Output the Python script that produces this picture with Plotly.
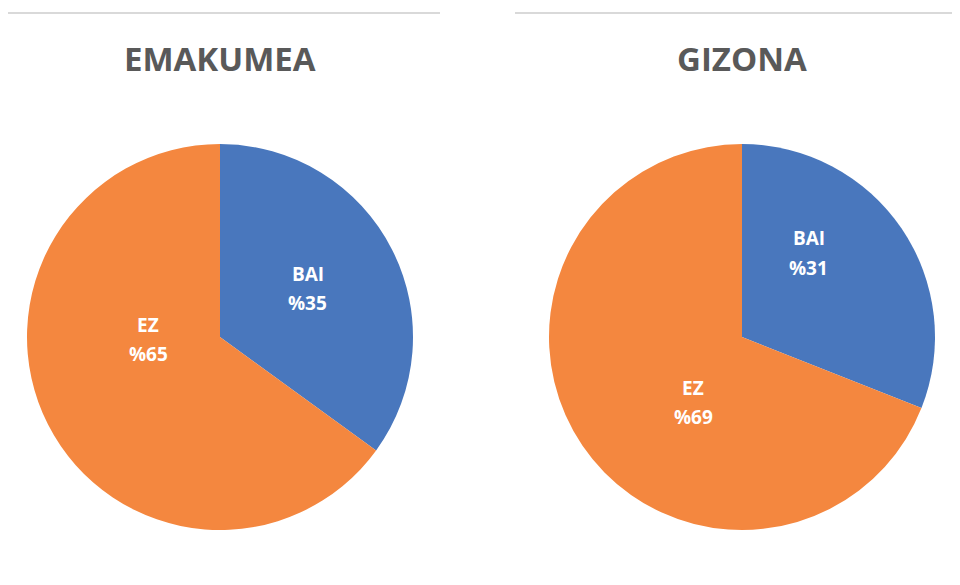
import plotly.graph_objects as go

categories = ["BAI", "EZ"]
titles = ["EMAKUMEA", "GIZONA"]
emakumea = [35, 65]
gizona = [31, 69]

colors = ["#4977BD", "#F4873F"]

# page offset (browser body margin) and figure size
OFF = 8
W, H = 960 - OFF, 585 - OFF


def px(x):
    return (x - OFF) / W


def py(y):
    return 1 - (y - OFF) / H


# pie layout (page pixels): centre x, centre y, radius
pies = [(220, 337, 193), (742, 337, 193)]
# label block centres (page pixels) for each slice of each pie
label_pos = [[(307.5, 288), (148, 339)], [(808.5, 253), (693, 402)]]
LINE_GAP = 14.5

fig = go.Figure()
for vals, (cx, cy, r) in zip([emakumea, gizona], pies):
    fig.add_trace(go.Pie(
        labels=categories, values=vals, sort=False, direction="clockwise", rotation=0,
        marker=dict(colors=colors, line=dict(width=0)),
        textinfo="none", hoverinfo="label+value",
        domain=dict(x=[px(cx - r), px(cx + r)], y=[py(cy + r), py(cy - r)]),
        showlegend=False,
    ))

for vals, positions in zip([emakumea, gizona], label_pos):
    for cat, v, (lx, ly) in zip(categories, vals, positions):
        for txt, yy in [(cat, ly - LINE_GAP), ("%" + str(v), ly + LINE_GAP)]:
            fig.add_annotation(text="<b>%s</b>" % txt, x=px(lx), y=py(yy),
                               xref="paper", yref="paper", showarrow=False,
                               xanchor="center", yanchor="middle",
                               font=dict(family="Open Sans", size=19, color="white"))

for t, (cx, cy, r) in zip(titles, pies):
    fig.add_annotation(text="<b>%s</b>" % t, x=px(cx), y=py(58.5), xref="paper", yref="paper",
                       showarrow=False, xanchor="center", yanchor="middle",
                       font=dict(family="Open Sans", size=33, color="#595959"))

for x0, x1 in [(8, 440), (515, 960)]:
    fig.add_shape(type="line", xref="paper", yref="paper", x0=px(x0), x1=px(x1),
                  y0=py(13), y1=py(13), line=dict(color="#D9D9D9", width=2))

fig.update_layout(width=W, height=H, margin=dict(l=0, r=0, t=0, b=0),
                  paper_bgcolor="white", plot_bgcolor="white")
fig.write_html("out.html")
